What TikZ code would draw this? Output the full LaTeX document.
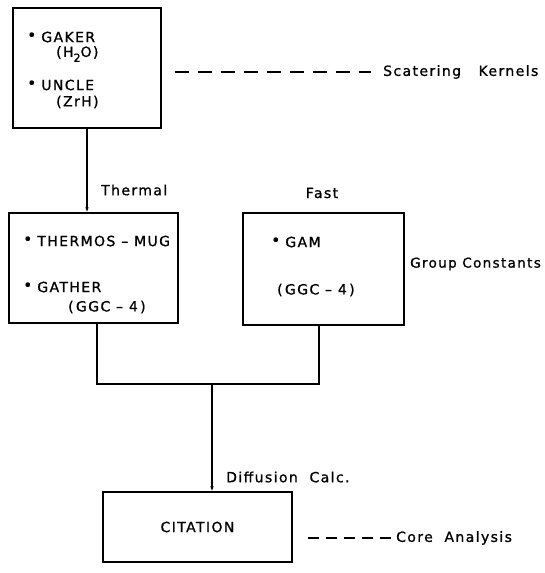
\documentclass[tikz,border=0pt]{standalone}
\usepackage{fontspec}
\usepackage{graphicx}
\setmainfont{DejaVu Sans}[LetterSpace=10, FakeBold=1]
\usetikzlibrary{arrows.meta}
\newcommand{\bdot}{\raisebox{0.42em}{\scalebox{0.42}{●}}\hspace{0.5em}}
\newcommand{\subtwo}{\raisebox{-0.35em}{\fontsize{11}{11}\selectfont 2}}
\begin{document}
\begin{tikzpicture}[x=1pt,y=-1pt,
  box/.style={draw, line width=1.2pt, inner sep=0pt},
  lbl/.style={inner sep=0pt, anchor=west, font=\fontsize{14}{16}\selectfont},
  conn/.style={line width=1.2pt},
  arr/.style={line width=1.2pt, -{Latex[length=5pt,width=3.5pt]}},
  dsh/.style={line width=1.2pt, dash pattern=on 14pt off 9pt}]
\useasboundingbox[fill=white] (0,0) rectangle (544,573);
% boxes
\node[box, minimum width=148pt, minimum height=120pt] (b1) at (87,68) {};
\node[box, minimum width=169pt, minimum height=110pt] (b2) at (93.5,268) {};
\node[box, minimum width=161pt, minimum height=112pt] (b3) at (323.5,269) {};
\node[box, minimum width=189pt, minimum height=70pt] (cit) at (197.5,527) {};
% box texts
\node[lbl] (t1) at (29,37) {\bdot GAKER};
\node[lbl] (t2) at (56,54) {(H\subtwo O)};
\node[lbl] (t3) at (29,85) {\bdot UNCLE};
\node[lbl] (t4) at (56,102) {(ZrH)};
\node[lbl] (t5) at (25,241) {\bdot THERMOS – MUG};
\node[lbl] (t6) at (25,287) {\bdot GATHER};
\node[lbl] (t7) at (68,307) {(\,GGC – 4\,)};
\node[lbl] (t8) at (273,242) {\bdot GAM};
\node[lbl] (t9) at (277,290) {(\,GGC – 4\,)};
\node[lbl, anchor=center] (t10) at (cit.center) {CITATION};
% outside labels
\node[lbl] (sk) at (383,72) {Scatering\ \ \ Kernels};
\node[lbl] (th) at (101,190) {Thermal};
\node[lbl, anchor=center] (fa) at (322,193) {Fast};
\node[lbl, font=\fontsize{13.5}{16}\selectfont] (gc) at (410,264) {Group Constants};
\node[lbl] (dc) at (226,477) {Diffusion\ \ Calc.};
\node[lbl] (ca) at (396,538) {Core\ \ Analysis};
% connectors
\draw[dsh] ([xshift=13pt]b1.east |- sk.west) -- ([xshift=-12pt]sk.west);
\draw[arr] (b1.south) -- (b1.south |- b2.north);
\coordinate (jl) at (97,384);
\coordinate (jr) at (319,384);
\coordinate (jm) at (212,384);
\draw[conn] (jl |- b2.south) -- (jl) -- (jr) -- (jr |- b3.south);
\draw[arr] (jm) -- (jm |- cit.north);
\draw[dsh, dash pattern=on 11pt off 7pt] ([xshift=15pt]cit.east |- ca.west) -- ([xshift=-5pt]ca.west);
\end{tikzpicture}
\end{document}
